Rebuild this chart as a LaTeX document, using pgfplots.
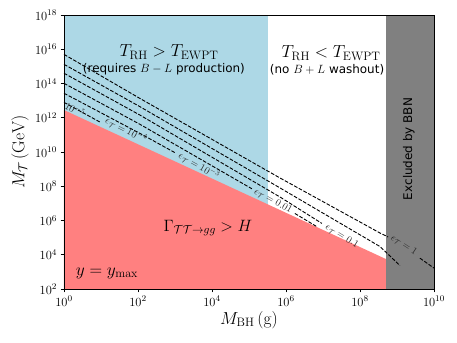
\RequirePackage{fix-cm}
\documentclass[border=0pt]{standalone}
\usepackage{fontspec}
\newfontfamily\dejavu{DejaVu Sans}
\usepackage{pgfplots}
\pgfplotsset{compat=1.18}
\definecolor{lblue}{RGB}{173,216,230}
\definecolor{lred}{RGB}{255,128,128}
\definecolor{mgray}{RGB}{128,128,128}
\begin{document}
\begin{tikzpicture}
\begin{axis}[
  scale only axis, width=370bp, height=274bp,
  xmode=log, ymode=log,
  xmin=1, xmax=1e10, ymin=1e2, ymax=1e18,
  xtick={1,1e2,1e4,1e6,1e8,1e10},
  ytick={1e2,1e4,1e6,1e8,1e10,1e12,1e14,1e16,1e18},
  xminorticks=false, yminorticks=false,
  tick align=outside, xtick pos=bottom, ytick pos=left,
  major tick length=3.5bp,
  every tick/.style={black, line width=0.8bp},
  axis line style={line width=0.8bp},
  tick label style={font=\fontsize{12.5}{14}\selectfont},
  axis on top,
  clip mode=individual,
  ldash/.style={black, line width=0.9bp, dash pattern=on 3.7bp off 1.6bp},
]
% regions
\addplot[fill=lblue, draw=none] coordinates {(1,1e2) (3.2e5,1e2) (3.2e5,1e18) (1,1e18)} -- cycle;
\addplot[fill=lred, draw=none] coordinates {(1,2.818e12) (5e8,5.64e3) (5e8,1e2) (1,1e2)} -- cycle;
\addplot[fill=mgray, draw=none] coordinates {(5e8,1e2) (1e10,1e2) (1e10,1e18) (5e8,1e18)} -- cycle;
% contour lines
\addplot[ldash] coordinates {(1,5.012e15) (112.2,1.349e13) (6.918e5,3.020e8) (3.467e8,1.862e5) (5.754e8,1.096e5)};
\addplot[ldash] coordinates {(4.169e9,6310) (1e10,1660)};
\addplot[ldash] coordinates {(1,1.318e15) (112.2,4.467e12) (6.918e5,7.943e7) (3.467e8,3.020e4) (1.202e9,2344)};
\addplot[ldash] coordinates {(1,3.981e14) (112.2,1.445e12) (6.918e5,2.344e7) (9.333e6,6.761e5)};
\addplot[ldash] coordinates {(1,1.023e14) (112.2,4.169e11) (1.202e5,7.079e7)};
\addplot[ldash] coordinates {(1.738e6,2.570e6) (7.079e6,4.169e5)};
\addplot[ldash] coordinates {(1,2.692e13) (112.2,1.230e11) (1000,9.120e9)};
\addplot[ldash] coordinates {(1,7.943e12) (9.333,5.623e11)};
% contour labels
\begin{scope}[every node/.style={font=\fontsize{10}{12}\selectfont, text=black!85, inner sep=0pt}]
\node[rotate=-29] at (axis description cs:0.030,0.655) {$10^{-5}$};
\node[rotate=-27] at (axis description cs:0.168,0.580) {$\epsilon_{\mathcal{T}} = 10^{-4}$};
\node[rotate=-29] at (axis description cs:0.365,0.449) {$\epsilon_{\mathcal{T}} = 10^{-3}$};
\node[rotate=-29] at (axis description cs:0.565,0.321) {$\epsilon_{\mathcal{T}} = 0.01$};
\node[rotate=-31] at (axis description cs:0.751,0.193) {$\epsilon_{\mathcal{T}} = 0.1$};
\node[rotate=-33] at (axis description cs:0.919,0.161) {$\epsilon_{\mathcal{T}} = 1$};
\end{scope}
% region texts
\node[font=\fontsize{17.5}{20}\selectfont] at (axis description cs:0.284,0.865) {$T_{\mathrm{RH}} > T_{\mathrm{EWPT}}$};
\node[font=\dejavu\fontsize{12}{14}\selectfont] at (axis description cs:0.270,0.801) {(requires $B-L$ production)};
\node[font=\fontsize{17.5}{20}\selectfont] at (axis description cs:0.722,0.861) {$T_{\mathrm{RH}} < T_{\mathrm{EWPT}}$};
\node[font=\dejavu\fontsize{12}{14}\selectfont] at (axis description cs:0.711,0.801) {(no $B+L$ washout)};
\node[font=\dejavu\fontsize{12}{14}\selectfont, rotate=90] at (axis description cs:0.932,0.511) {Excluded by BBN};
\node[font=\fontsize{16.5}{19}\selectfont] at (axis description cs:0.389,0.223) {$\Gamma_{\mathcal{T}\mathcal{T}\to gg} > H$};
\node[font=\fontsize{17.5}{20}\selectfont] at (axis description cs:0.116,0.058) {$y = y_{\max}$};
% axis labels
\node[font=\fontsize{17.5}{20}\selectfont] at (axis description cs:0.5,-0.113) {$M_{\mathrm{BH}}\,(\mathrm{g})$};
\node[font=\fontsize{17.5}{20}\selectfont, rotate=90] at (axis description cs:-0.119,0.5) {$M_{\mathcal{T}}\,(\mathrm{GeV})$};
\coordinate (sw) at (rel axis cs:0,0);
\coordinate (ne) at (rel axis cs:1,1);
\end{axis}
\pgfresetboundingbox
\path[use as bounding box] ([shift={(-64bp,-54bp)}]sw) rectangle ([shift={(23bp,15bp)}]ne);
\end{tikzpicture}
\end{document}
